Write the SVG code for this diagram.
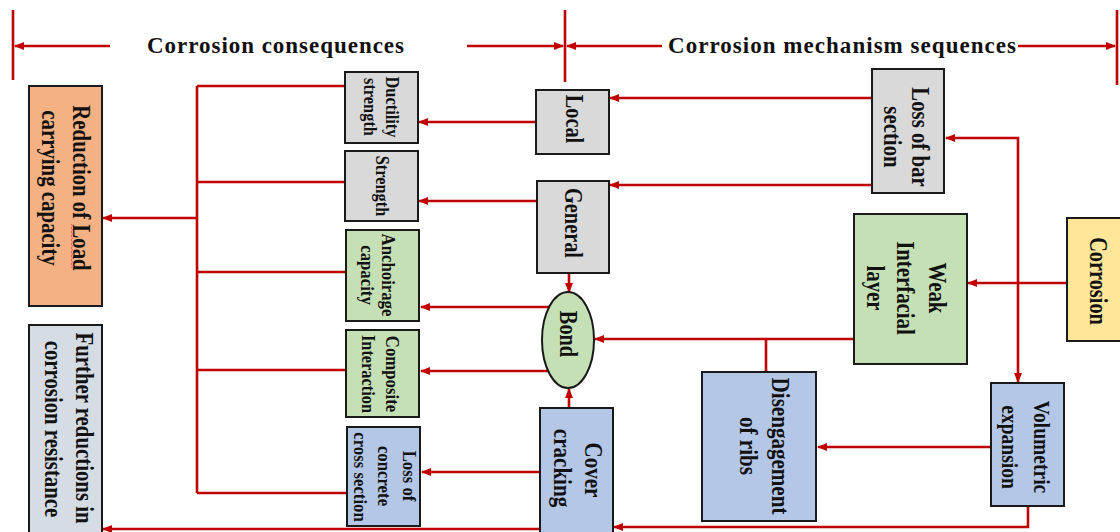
<svg xmlns="http://www.w3.org/2000/svg" width="1120" height="532" viewBox="0 0 1120 532">
  <style>
    .box { stroke: #1a1a1a; stroke-width: 2; }
    .gray { fill: #D9D9D9; }
    .green { fill: #C5E0B4; }
    .blue { fill: #B4C7E7; }
    .orange { fill: #F4B183; }
    .slate { fill: #D6DCE4; }
    .yellow { fill: #FFE699; }
    text { font-family: "Liberation Serif", "Times New Roman", serif; font-weight: bold; fill: #111; }
    .v { text-anchor: middle; dominant-baseline: central; }
    .big { font-size: 24.5px; }
    .mid { font-size: 23px; }
    .sm { font-size: 19.5px; }
    .hdr { font-size: 23px; }
    .wire { fill: none; stroke: #C00000; stroke-width: 2.6; }
    .arrow { marker-end: url(#ah); }
  </style>
  <defs>
    <marker id="ah" viewBox="0 0 10 8" refX="9" refY="4" markerWidth="10" markerHeight="8" markerUnits="userSpaceOnUse" orient="auto-start-reverse">
      <path d="M0,0 L10,4 L0,8 Z" fill="#C00000"/>
    </marker>
  </defs>

  <!-- section header with dimension-style arrows -->
  <g id="header">
    <path class="wire" d="M13,10 V80 M565,10 V82 M1117,10 V85"/>
    <path class="wire arrow" d="M110,46 H15"/>
    <path class="wire arrow" d="M467,46 H563"/>
    <path class="wire arrow" d="M662,46 H567"/>
    <path class="wire arrow" d="M1018,46 H1115"/>
    <text class="hdr" x="147" y="53" textLength="257" lengthAdjust="spacing">Corrosion consequences</text>
    <text class="hdr" x="668" y="53" textLength="348" lengthAdjust="spacing">Corrosion mechanism sequences</text>
  </g>

  <!-- connectors -->
  <g id="connectors">
    <!-- collector bus on the consequences side -->
    <path class="wire" d="M197,86 V493 M197,86 H346 M197,182 H346 M197,272 H346 M197,370 H346 M197,493 H347"/>
    <path class="wire arrow" d="M197,218 H103"/>
    <!-- mechanism to consequence links -->
    <path class="wire arrow" d="M536,122 H419"/>
    <path class="wire arrow" d="M537,201 H419"/>
    <path class="wire arrow" d="M550,307 H421"/>
    <path class="wire arrow" d="M548,371 H421"/>
    <path class="wire arrow" d="M540,472 H422"/>
    <path class="wire arrow" d="M540,529 H103"/>
    <!-- loss of bar section to local / general -->
    <path class="wire arrow" d="M872,98 H610"/>
    <path class="wire arrow" d="M872,185 H610"/>
    <!-- into bond -->
    <path class="wire arrow" d="M569,273 V292"/>
    <path class="wire arrow" d="M569,408 V389"/>
    <path class="wire arrow" d="M854,339 H595"/>
    <path class="wire" d="M766,339 V372"/>
    <!-- corrosion to weak interfacial layer -->
    <path class="wire arrow" d="M1067,283 H968"/>
    <!-- split to loss of bar section and volumetric expansion -->
    <path class="wire" d="M946,138 H1018 V382" marker-start="url(#ah)" marker-end="url(#ah)"/>
    <path class="wire arrow" d="M991,447 H818"/>
    <path class="wire arrow" d="M1028,506 V527 H614"/>
  </g>

  <!-- consequence nodes (labels run top to bottom, slightly condensed) -->
  <g id="reduction-load">
    <rect class="box orange" x="29" y="86" width="73" height="220"/>
    <text class="v big" transform="translate(81,188) rotate(90) scale(0.85,1)">Reduction of Load</text>
    <text class="v big" transform="translate(50,188) rotate(90) scale(0.85,1)">carrying capacity</text>
    <path d="M71,224 l1.5,2 l-1.5,2 l1.5,2 l-1.5,2 l1.5,2 l-1.5,2 l1.5,2 l-1.5,2 l1.5,2 l-1.5,2 l1.5,2 l-1.5,2 l1.5,2 l-1.5,2 l1.5,2 l-1.5,2 l1.5,2 l-1.5,2 l1.5,2 l-1.5,2 l1.5,2 l-1.5,2" fill="none" stroke="#E46464" stroke-width="1"/>
  </g>
  <g id="further-reductions">
    <rect class="box slate" x="29" y="325" width="73" height="220"/>
    <text class="v big" transform="translate(84,428) rotate(90) scale(0.85,1)">Further reductions in</text>
    <text class="v big" transform="translate(53,429) rotate(90) scale(0.85,1)">corrosion resistance</text>
  </g>
  <g id="ductility-strength">
    <rect class="box gray" x="345" y="72" width="73" height="71"/>
    <text class="v sm" transform="translate(392,107) rotate(90) scale(0.84,1)">Ductility</text>
    <text class="v sm" transform="translate(370,107) rotate(90) scale(0.84,1)">strength</text>
  </g>
  <g id="strength">
    <rect class="box gray" x="345" y="151" width="73" height="70"/>
    <text class="v sm" transform="translate(382,186) rotate(90) scale(0.84,1)">Strength</text>
  </g>
  <g id="anchorage-capacity">
    <rect class="box green" x="346" y="230" width="73" height="91"/>
    <text class="v sm" transform="translate(388,275) rotate(90) scale(0.86,1)">Anchoirage</text>
    <text class="v sm" transform="translate(367,275) rotate(90) scale(0.86,1)">capacity</text>
  </g>
  <g id="composite-interaction">
    <rect class="box green" x="346" y="330" width="73" height="87"/>
    <text class="v sm" transform="translate(392,374) rotate(90) scale(0.86,1)">Composite</text>
    <text class="v sm" transform="translate(368,374) rotate(90) scale(0.84,1)">Interaction</text>
  </g>
  <g id="loss-concrete">
    <rect class="box blue" x="347" y="427" width="73" height="99"/>
    <text class="v sm" transform="translate(409,476) rotate(90) scale(0.86,1)">Loss of</text>
    <text class="v sm" transform="translate(384,476) rotate(90) scale(0.86,1)">concrete</text>
    <text class="v sm" transform="translate(360,477) rotate(90) scale(0.86,1)">cross section</text>
  </g>

  <!-- mechanism nodes -->
  <g id="local">
    <rect class="box gray" x="536" y="90" width="73" height="64"/>
    <text class="v big" transform="translate(574,119) rotate(90) scale(0.83,1)">Local</text>
  </g>
  <g id="general">
    <rect class="box gray" x="537" y="181" width="72" height="92"/>
    <text class="v big" transform="translate(573,223) rotate(90) scale(0.83,1)">General</text>
  </g>
  <g id="bond">
    <ellipse class="box green" cx="568" cy="340" rx="26" ry="48"/>
    <text class="v big" transform="translate(568,334) rotate(90) scale(0.83,1)">Bond</text>
  </g>
  <g id="cover-cracking">
    <rect class="box blue" x="540" y="408" width="73" height="140"/>
    <text class="v big" transform="translate(593,470) rotate(90) scale(0.86,1)">Cover</text>
    <text class="v big" transform="translate(562,468) rotate(90) scale(0.86,1)">cracking</text>
  </g>
  <g id="loss-bar-section">
    <rect class="box gray" x="872" y="69" width="72" height="124"/>
    <text class="v big" transform="translate(920,137) rotate(90) scale(0.85,1)">Loss of bar</text>
    <text class="v big" transform="translate(892,137) rotate(90) scale(0.85,1)">section</text>
  </g>
  <g id="weak-interfacial-layer">
    <rect class="box green" x="854" y="214" width="113" height="150"/>
    <text class="v big" transform="translate(937,288) rotate(90) scale(0.85,1)">Weak</text>
    <text class="v big" transform="translate(905,288) rotate(90) scale(0.85,1)">Interfacial</text>
    <text class="v big" transform="translate(875,288) rotate(90) scale(0.85,1)">layer</text>
  </g>
  <g id="corrosion">
    <rect class="box yellow" x="1067" y="218" width="70" height="123"/>
    <text class="v big" transform="translate(1098,281) rotate(90) scale(0.83,1)">Corrosion</text>
  </g>
  <g id="disengagement-ribs">
    <rect class="box blue" x="702" y="372" width="114" height="149"/>
    <text class="v big" transform="translate(780,446) rotate(90) scale(0.86,1)">Disengagement</text>
    <text class="v big" transform="translate(748,446) rotate(90) scale(0.86,1)">of ribs</text>
  </g>
  <g id="volumetric-expansion">
    <rect class="box blue" x="991" y="383" width="73" height="123"/>
    <text class="v mid" transform="translate(1042,447) rotate(90) scale(0.85,1)">Volumetric</text>
    <text class="v mid" transform="translate(1010,447) rotate(90) scale(0.85,1)">expansion</text>
  </g>
</svg>
